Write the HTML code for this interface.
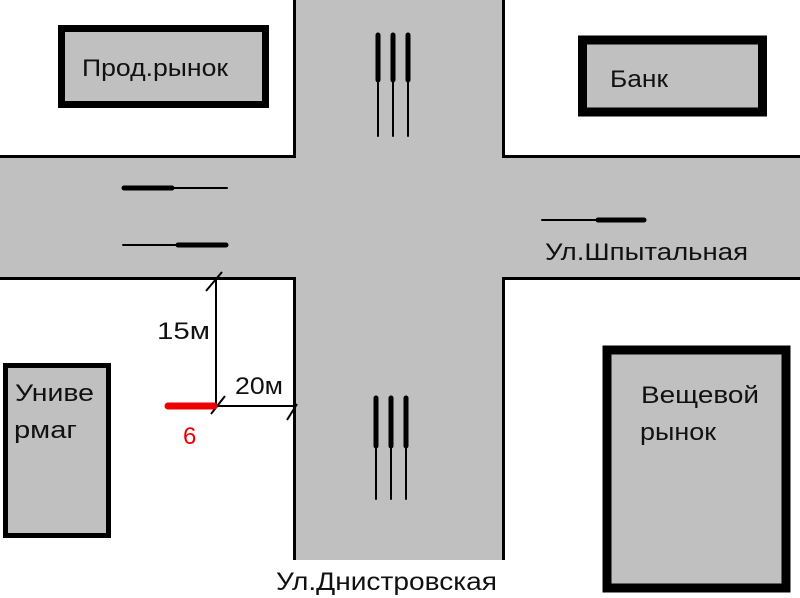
<!DOCTYPE html>
<html><head><meta charset="utf-8"><style>
html,body{margin:0;padding:0;background:#fff;}
svg{display:block}
text{font-family:"Liberation Sans","DejaVu Sans",sans-serif;fill:#111}
</style></head><body>
<svg width="800" height="598" viewBox="0 0 800 598" xmlns="http://www.w3.org/2000/svg">
<rect width="800" height="598" fill="#fff"/>
<rect x="0" y="155" width="800" height="124" fill="#c0c0c0"/>
<rect x="294" y="0" width="210" height="560" fill="#c0c0c0"/>
<g stroke="#000" stroke-width="3" fill="none">
<polyline points="0,156.5 294.5,156.5 294.5,0"/>
<polyline points="503.5,0 503.5,156.5 800,156.5"/>
<polyline points="0,278.5 294.5,278.5 294.5,560"/>
<polyline points="503.5,560 503.5,278.5 800,278.5"/>
</g>
<rect x="61.5" y="28.5" width="204" height="76" fill="#c0c0c0" stroke="#000" stroke-width="7"/>
<text x="82" y="76" font-size="24" textLength="146" lengthAdjust="spacingAndGlyphs">Прод.рынок</text>
<rect x="582.5" y="40" width="180" height="72" fill="#c0c0c0" stroke="#000" stroke-width="9"/>
<text x="610" y="87" font-size="24" textLength="58" lengthAdjust="spacingAndGlyphs">Банк</text>
<rect x="5.5" y="365.5" width="103" height="170" fill="#c0c0c0" stroke="#000" stroke-width="5"/>
<text x="15" y="401" font-size="24" textLength="79" lengthAdjust="spacingAndGlyphs">Униве</text>
<text x="14" y="438" font-size="24" textLength="63" lengthAdjust="spacingAndGlyphs">рмаг</text>
<rect x="607" y="350" width="179" height="238" fill="#c0c0c0" stroke="#000" stroke-width="9"/>
<text x="641" y="403" font-size="24" textLength="118" lengthAdjust="spacingAndGlyphs">Вещевой</text>
<text x="640" y="440" font-size="24" textLength="76" lengthAdjust="spacingAndGlyphs">рынок</text>
<g stroke="#000" stroke-linecap="round">
<line x1="378" y1="35" x2="378" y2="136" stroke-width="2"/>
<line x1="393" y1="35" x2="393" y2="136" stroke-width="2"/>
<line x1="408" y1="35" x2="408" y2="136" stroke-width="2"/>
<line x1="378" y1="35" x2="378" y2="80" stroke-width="5"/>
<line x1="393" y1="35" x2="393" y2="80" stroke-width="5"/>
<line x1="408" y1="35" x2="408" y2="80" stroke-width="5"/>
<line x1="376" y1="398" x2="376" y2="499" stroke-width="2"/>
<line x1="391" y1="398" x2="391" y2="499" stroke-width="2"/>
<line x1="406" y1="398" x2="406" y2="499" stroke-width="2"/>
<line x1="376" y1="398" x2="376" y2="446" stroke-width="5"/>
<line x1="391" y1="398" x2="391" y2="446" stroke-width="5"/>
<line x1="406" y1="398" x2="406" y2="446" stroke-width="5"/>
<line x1="123" y1="188" x2="227" y2="188" stroke-width="2"/>
<line x1="124" y1="188" x2="172" y2="188" stroke-width="5"/>
<line x1="123" y1="245" x2="227" y2="245" stroke-width="2"/>
<line x1="178" y1="245" x2="226" y2="245" stroke-width="5"/>
<line x1="542" y1="220" x2="645" y2="220" stroke-width="2"/>
<line x1="598" y1="220" x2="644" y2="220" stroke-width="5"/>
</g>
<g stroke="#000" stroke-width="2" fill="none">
<line x1="216" y1="279" x2="216" y2="406"/>
<line x1="216" y1="406" x2="295" y2="406"/>
<line x1="206" y1="291" x2="222" y2="272"/>
<line x1="211" y1="414" x2="225" y2="396"/>
<line x1="287" y1="420" x2="297" y2="404"/>
</g>
<line x1="168" y1="406" x2="214" y2="406" stroke="#e00" stroke-width="7" stroke-linecap="round"/>
<text x="157" y="339" font-size="24" textLength="53" lengthAdjust="spacingAndGlyphs">15м</text>
<text x="235" y="394" font-size="24" textLength="48" lengthAdjust="spacingAndGlyphs">20м</text>
<text x="183" y="444" font-size="24" style="fill:#e00">6</text>
<text x="545" y="260" font-size="24" textLength="203" lengthAdjust="spacingAndGlyphs">Ул.Шпытальная</text>
<text x="276" y="590" font-size="25" textLength="221" lengthAdjust="spacingAndGlyphs">Ул.Днистровская</text>
</svg>
</body></html>
